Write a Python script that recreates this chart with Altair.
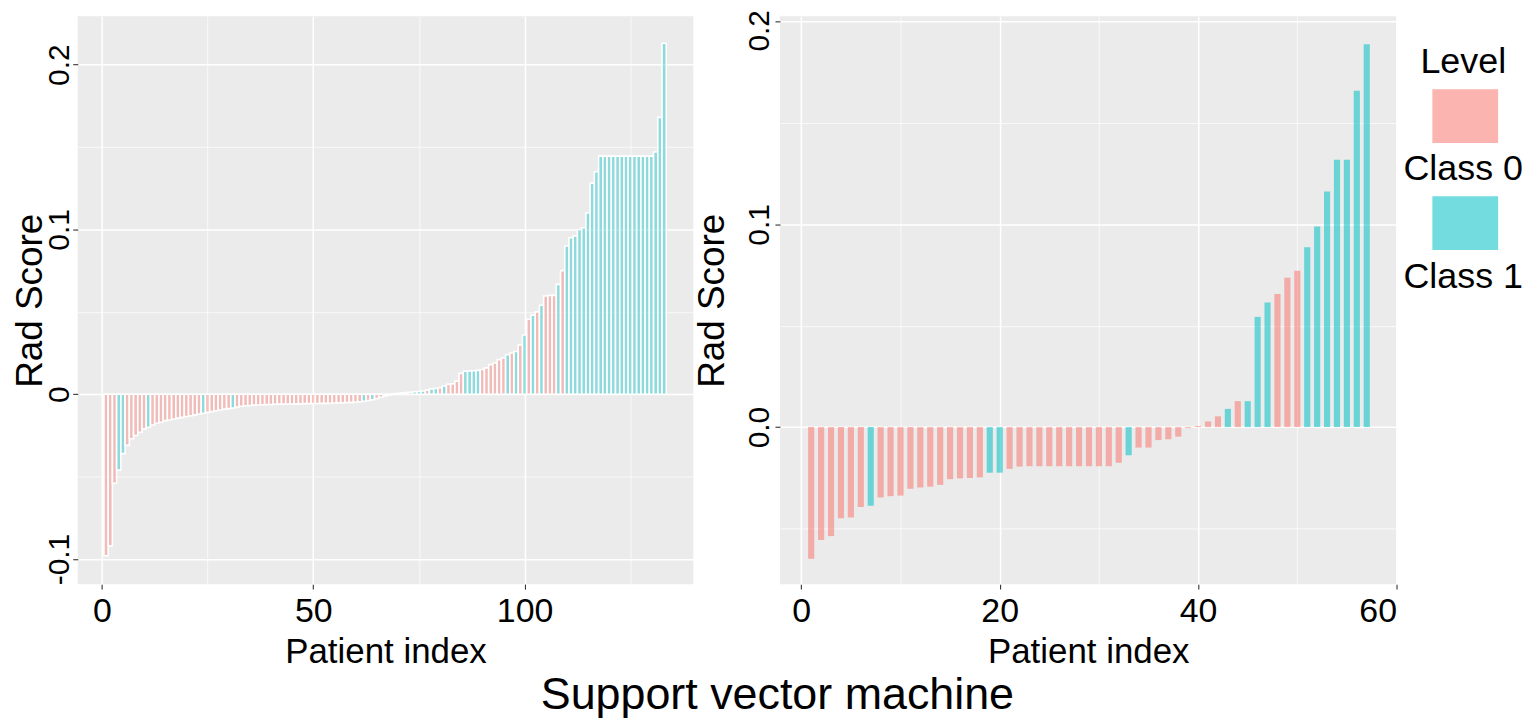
import altair as alt
import pandas as pd

FONT = "Liberation Sans"

CLASS_NAMES = ["Class 0", "Class 1"]
CLASS_COLORS = ["#F8766D", "#00BFC4"]
LEGEND_TITLE = "Level"

# ---------------- left panel: 133 patients ----------------
left_score = [
    -0.098, -0.092, -0.054, -0.046, -0.036, -0.031, -0.027, -0.025, -0.023, -0.021,
    -0.020, -0.0186, -0.0176, -0.017, -0.016, -0.0156, -0.015, -0.0145, -0.014, -0.0135,
    -0.013, -0.0125, -0.012, -0.0115, -0.011, -0.0105, -0.010, -0.0095, -0.009, -0.0087,
    -0.0083, -0.0078, -0.0073, -0.007, -0.0068, -0.0066, -0.0065, -0.0064, -0.0063, -0.0062,
    -0.0061, -0.006, -0.006, -0.0059, -0.0059, -0.0058, -0.0058, -0.0057, -0.0057, -0.0056,
    -0.0056, -0.0055, -0.0055, -0.0054, -0.0053, -0.0052, -0.0051, -0.005, -0.0049, -0.0047,
    -0.0045, -0.0042, -0.0038, -0.0033, -0.0026, -0.0018, -0.001, -0.0004, 0.0002, 0.0005,
    0.0008, 0.001, 0.0012, 0.0015, 0.0017, 0.002, 0.0025, 0.0033, 0.0035, 0.004,
    0.005, 0.006, 0.0063, 0.008, 0.0127, 0.014, 0.0142, 0.0143, 0.0145, 0.015,
    0.016, 0.018, 0.019, 0.021, 0.022, 0.024, 0.025, 0.026, 0.030, 0.036,
    0.0455, 0.048, 0.050, 0.054, 0.0596, 0.060, 0.060, 0.0667, 0.075, 0.090,
    0.095, 0.096, 0.100, 0.101, 0.110, 0.128, 0.135, 0.1445, 0.1445, 0.1445,
    0.1445, 0.1445, 0.1445, 0.1445, 0.1445, 0.1445, 0.1445, 0.1445, 0.1445, 0.1445,
    0.147, 0.168, 0.213,
]
left_class = [
    0, 0, 0, 1, 1, 0, 0, 0, 0, 0,
    1, 0, 0, 0, 0, 0, 0, 0, 0, 0,
    0, 0, 0, 1, 0, 0, 0, 0, 0, 0,
    1, 0, 0, 0, 0, 0, 0, 0, 0, 0,
    0, 0, 0, 0, 0, 0, 0, 0, 0, 0,
    0, 0, 0, 0, 0, 0, 0, 0, 0, 0,
    0, 1, 0, 1, 0, 0, 0, 0, 0, 0,
    0, 0, 0, 1, 1, 1, 0, 1, 1, 0,
    1, 0, 0, 0, 0, 1, 1, 1, 1, 0,
    0, 0, 0, 0, 0, 1, 0, 1, 0, 1,
    0, 1, 0, 1, 0, 0, 0, 1, 0, 1,
    1, 1, 1, 1, 1, 1, 1, 1, 1, 1,
    1, 1, 1, 1, 1, 1, 1, 1, 1, 1,
    1, 1, 1,
]

# ---------------- right panel: 57 patients ----------------
right_score = [
    -0.065, -0.0557, -0.0538, -0.045, -0.0446, -0.0394, -0.0388, -0.0347, -0.0341, -0.0338,
    -0.0304, -0.0298, -0.0294, -0.0285, -0.0257, -0.0253, -0.0251, -0.0248, -0.0225, -0.0225,
    -0.0206, -0.0195, -0.0193, -0.0193, -0.0193, -0.0193, -0.0193, -0.0193, -0.0193, -0.0193,
    -0.0193, -0.0176, -0.0139, -0.0101, -0.0101, -0.0064, -0.006, -0.0047, -0.0005, 0.0005,
    0.0028, 0.0053, 0.009, 0.0128, 0.0128, 0.0544, 0.0615, 0.0657, 0.0737, 0.0771,
    0.0887, 0.099, 0.1163, 0.1319, 0.1319, 0.166, 0.189,
]
right_class = [
    0, 0, 0, 0, 0, 0, 1, 0, 0, 0,
    0, 0, 0, 0, 0, 0, 0, 0, 1, 1,
    0, 0, 0, 0, 0, 0, 0, 0, 0, 0,
    0, 0, 1, 0, 0, 0, 0, 0, 0, 0,
    0, 0, 1, 0, 1, 1, 1, 0, 0, 0,
    1, 1, 1, 1, 1, 1, 1,
]

# axis ticks
left_x_major, left_x_labels, left_x_minor = [0, 50, 100], ["0", "50", "100"], [25, 75, 125]
right_x_major, right_x_labels, right_x_minor = [0, 20, 40, 60], ["0", "20", "40", "60"], [10, 30, 50]
left_y_major, left_y_labels, left_y_minor = [-0.1, 0, 0.1, 0.2], ["-0.1", "0", "0.1", "0.2"], [-0.05, 0.05, 0.15]
right_y_major, right_y_labels, right_y_minor = [0, 0.1, 0.2], ["0.0", "0.1", "0.2"], [-0.05, 0.05, 0.15]

X_TITLE = "Patient index"
Y_TITLE = "Rad Score"
MAIN_TITLE = "Support vector machine"


def label_expr(values, labels):
    parts = [f"datum.value == {v} ? '{l}'" for v, l in zip(values, labels)]
    return " : ".join(parts) + " : ''"


def major_test(values):
    return "indexof([" + ",".join(str(v) for v in values) + "], datum.value) >= 0"


def make_axis(major, labels, minor, title, vertical, title_padding, label_padding,
              top_label_shift=0.0):
    test = major_test(major)
    common = dict(
        values=sorted(major + minor),
        labelExpr=label_expr(major, labels),
        grid=True,
        gridColor="white",
        gridWidth={"condition": {"test": test, "value": 1.5}, "value": 0.7},
        ticks=True,
        tickColor="#333333",
        tickSize=5,
        tickWidth=1.1,
        tickOpacity={"condition": {"test": test, "value": 1}, "value": 0},
        domain=False,
        labelFont=FONT,
        labelColor="black",
        labelPadding=label_padding,
        title=title,
        titleFont=FONT,
        titleFontWeight="normal",
        titleColor="black",
        titlePadding=title_padding,
    )
    if vertical:
        extra = {}
        if top_label_shift:
            extra["labelOffset"] = {
                "condition": {"test": f"datum.value == {max(major)}", "value": top_label_shift},
                "value": 0,
            }
        return alt.Axis(
            labelFontSize=30, labelAngle=270, labelAlign="center",
            labelBaseline="alphabetic", titleFontSize=37, titleAngle=270,
            titleBaseline="alphabetic", **extra, **common)
    return alt.Axis(labelFontSize=34, titleFontSize=35, **common)


def frame(scores, classes):
    return pd.DataFrame({
        "patient": list(range(1, len(scores) + 1)),
        "score": scores,
        "Level": [CLASS_NAMES[c] for c in classes],
    })


color = alt.Color("Level:N", scale=alt.Scale(domain=CLASS_NAMES, range=CLASS_COLORS), legend=None)


def panel(df, half, xdom, ydom, xaxis, yaxis, width, fill_opacity, stroke_w):
    mark_kw = dict(fillOpacity=fill_opacity)
    if stroke_w > 0:
        mark_kw.update(stroke="white", strokeWidth=stroke_w)
    return (
        alt.Chart(df)
        .transform_calculate(lo=f"datum.patient - {half}", hi=f"datum.patient + {half}")
        .mark_bar(**mark_kw)
        .encode(
            x=alt.X("lo:Q", scale=alt.Scale(domain=xdom, nice=False, zero=False), axis=xaxis),
            x2="hi:Q",
            y=alt.Y("score:Q", scale=alt.Scale(domain=ydom, nice=False, zero=False), axis=yaxis),
            y2=alt.datum(0),
            color=color,
        )
        .properties(width=width, height=570,
                    view=alt.ViewBackground(fill="#EBEBEB", strokeWidth=0))
    )


left = panel(
    frame(left_score, left_class), 0.5, [-5.7, 139.9], [-0.1152, 0.2293],
    make_axis(left_x_major, left_x_labels, left_x_minor, X_TITLE, False, 6, 5.3),
    make_axis(left_y_major, left_y_labels, left_y_minor, Y_TITLE, True, 2.8, 4.3),
    618, 0.4, 1.6,
)
right = panel(
    frame(right_score, right_class), 0.31, [-2.15, 60.0], [-0.0775, 0.2027],
    make_axis(right_x_major, right_x_labels, right_x_minor, X_TITLE, False, 6, 5.3),
    make_axis(right_y_major, right_y_labels, right_y_minor, Y_TITLE, True, 21.7, 6,
              top_label_shift=8.5),
    619, 0.55, 0,
)

# ---------------- legend (title, key, label stacked vertically) ----------------
legend_items = [LEGEND_TITLE] + CLASS_NAMES
legend_df = pd.DataFrame({"item": legend_items})
lbase = alt.Chart(legend_df).encode(
    y=alt.Y("item:N", scale=alt.Scale(type="point", domain=legend_items, padding=0.429), axis=None)
)
legend_text = lbase.mark_text(font=FONT, fontSize=36, color="black", align="center",
                              baseline="middle").encode(text="item:N", x=alt.value(66))
legend_keys = (
    lbase.transform_filter(f"datum.item != '{LEGEND_TITLE}'")
    .mark_point(shape="M-1.1,-0.9H1.1V0.9H-1.1Z", filled=True, size=3600, fillOpacity=0.55,
                strokeWidth=0, yOffset=-53.7)
    .encode(x=alt.value(68), color=alt.Color("item:N", scale=alt.Scale(domain=CLASS_NAMES, range=CLASS_COLORS), legend=None))
)
legend = alt.layer(legend_keys, legend_text).properties(
    width=130, height=307.5, view=alt.ViewBackground(fill="white", strokeWidth=0)
)

chart = (
    alt.hconcat(left, right, legend, spacing=0)
    .resolve_scale(x="independent", y="independent", color="independent")
    .properties(
        title=alt.TitleParams(MAIN_TITLE, orient="bottom", anchor="middle", font=FONT,
                              fontSize=45, fontWeight="normal", color="black",
                              baseline="top", offset=4, dx=8),
        padding={"left": 3, "top": 0, "right": 0, "bottom": 0},
        background="white",
    )
)

chart.save("out.html", embed_options={"renderer": "svg", "actions": False})
